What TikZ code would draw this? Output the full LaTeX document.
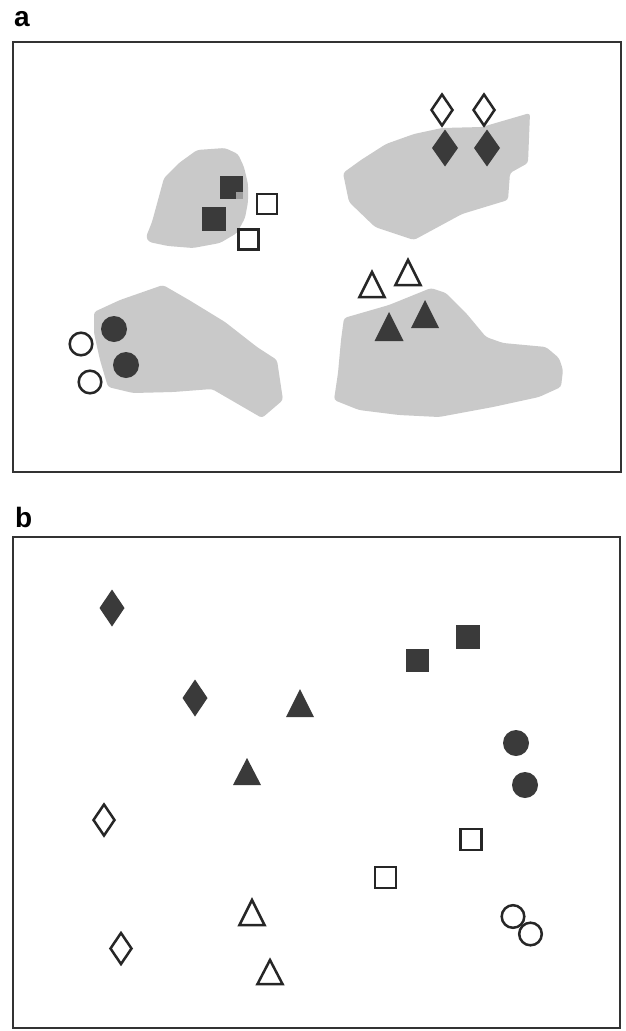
\documentclass[tikz,border=0pt]{standalone}
\usepackage{fontspec}
\setsansfont{Liberation Sans}
\definecolor{blobgray}{HTML}{C9C9C9}
\definecolor{darkfill}{HTML}{3A3A3A}
\definecolor{openline}{HTML}{262626}
\definecolor{framecol}{HTML}{333333}
\tikzset{
  blob/.style={fill=blobgray, rounded corners=3pt},
  solidmark/.style={fill=darkfill},
  openmark/.style={draw=openline, line width=2.5pt, fill=white, line join=miter},
  panelframe/.style={draw=framecol, line width=1.4pt},
  panellabel/.style={font=\fontsize{28}{28}\selectfont\sffamily\bfseries, text=black, inner sep=0pt, anchor=base west}
}
% square: style, cx, cy, half side
\newcommand\mksq[4]{\path[#1] (#2-#4,#3-#4) rectangle (#2+#4,#3+#4);}
% diamond: style, cx, cy, half width, half height
\newcommand\mkdia[5]{\path[#1] (#2,#3-#5) -- (#2+#4,#3) -- (#2,#3+#5) -- (#2-#4,#3) -- cycle;}
% triangle: style, cx, apex y, base y, half base
\newcommand\mktri[5]{\path[#1] (#2,#3) -- (#2+#5,#4) -- (#2-#5,#4) -- cycle;}
% circle: style, cx, cy, r
\newcommand\mkcirc[4]{\path[#1] (#2,#3) circle (#4);}
\begin{document}
\begin{tikzpicture}[x=1pt,y=-1pt]
\useasboundingbox (0,0) rectangle (626,1031);
\fill[white] (0,0) rectangle (626,1031);

% ---------- panel a ----------
\node[panellabel] (labela) at (14,26) {a};
\path[panelframe] (13,42) rectangle (621,472);

% grey regions
\path[blob] (146,237) -- (152,222) -- (158,200) -- (164,178) -- (179,163) -- (197,150) -- (225,148) -- (238,154) -- (244,167) -- (248,184) -- (248,202) -- (245,218) -- (237,233) -- (220,243) -- (193,248) -- (168,246) -- (149,242) -- cycle;
\path[blob] (343,173) -- (361,160) -- (386,144) -- (414,134) -- (442,128) -- (482,127) -- (530,113) -- (528,163) -- (510,173) -- (508,200) -- (462,214) -- (414,240) -- (375,227) -- (349,202) -- cycle;
\path[blob] (94,312) -- (120,300) -- (163,285) -- (189,300) -- (225,322) -- (257,347) -- (277,360) -- (283,400) -- (262,418) -- (212,389) -- (173,392) -- (133,393) -- (108,387) -- (100,360) -- (94,333) -- cycle;
\path[blob] (344,318) -- (389,305) -- (431,288) -- (446,293) -- (466,313) -- (486,337) -- (503,343) -- (546,347) -- (559,358) -- (563,370) -- (561,387) -- (539,397) -- (493,407) -- (439,417) -- (399,415) -- (359,410) -- (334,400) -- (338,373) -- (341,340) -- cycle;

% squares
\mksq{solidmark}{231.5}{187}{11.5}
\path[fill=blobgray!70!darkfill] (236,192) rectangle (243,199);
\mksq{solidmark}{214}{219}{12}
\mksq{openmark}{267}{204}{9.8}
\mksq{openmark}{248.5}{239.5}{9.8}

% diamonds
\mkdia{openmark}{442}{110}{10.5}{15.5}
\mkdia{openmark}{484}{110}{10.5}{15.5}
\mkdia{solidmark}{445}{148}{13}{18.5}
\mkdia{solidmark}{487}{148}{13}{18.5}

% circles
\mkcirc{solidmark}{114}{329}{13}
\mkcirc{solidmark}{126}{365}{13}
\mkcirc{openmark}{81}{344}{11.3}
\mkcirc{openmark}{90}{382}{11.3}

% triangles
\mktri{openmark}{372}{272}{297}{12.5}
\mktri{openmark}{408}{260}{285}{12.5}
\mktri{solidmark}{389}{312}{341}{14.5}
\mktri{solidmark}{425}{300}{328}{14}

% ---------- panel b ----------
\node[panellabel] (labelb) at (15,527) {b};
\path[panelframe] (13,537) rectangle (620,1028);

\mkdia{solidmark}{112}{608}{12.5}{18.5}
\mkdia{solidmark}{195}{698}{12.5}{18.5}
\mktri{solidmark}{300}{689}{717}{14}
\mktri{solidmark}{247}{758}{785}{14}
\mksq{solidmark}{417}{660}{11.5}
\mksq{solidmark}{468}{636.5}{12}
\mkcirc{solidmark}{516}{743}{13}
\mkcirc{solidmark}{525}{785}{13}

\mkdia{openmark}{104}{820}{10.5}{15.5}
\mkdia{openmark}{121}{948.5}{10.5}{15.5}
\mktri{openmark}{252}{900}{925}{12.5}
\mktri{openmark}{270}{960}{984}{12.5}
\mksq{openmark}{471}{839.5}{10.3}
\mksq{openmark}{385.5}{877.5}{10.3}
\mkcirc{openmark}{513}{916.5}{11.3}
\mkcirc{openmark}{530.5}{934}{11.3}
\end{tikzpicture}
\end{document}
